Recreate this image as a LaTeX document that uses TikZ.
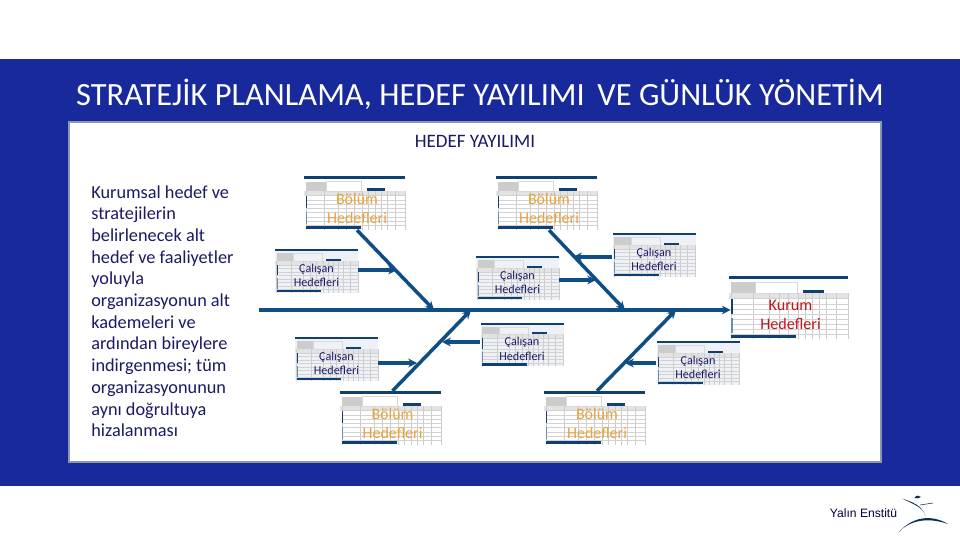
\documentclass[tikz,border=0pt]{standalone}
\usepackage{fontspec}
\setmainfont{Carlito}
\newfontfamily\logofont{Liberation Sans}
\usetikzlibrary{arrows.meta}
\definecolor{bandblue}{HTML}{17299B}
\definecolor{panelline}{HTML}{8A97B5}
\definecolor{sheetnavy}{HTML}{0F3F73}
\definecolor{sheetfill}{HTML}{EEF1F6}
\definecolor{bonecol}{HTML}{0F4E85}
\definecolor{inknavy}{HTML}{1A1A66}
\definecolor{bolumcol}{HTML}{E8A33D}
\definecolor{kurumcol}{HTML}{C0141E}
\newcommand{\bolumtext}{\rule{0pt}{12.2pt}Bölüm\\Hedefleri}
\newcommand{\calisantext}{\rule{0pt}{9.7pt}Çalışan\\Hedefleri}
\newcommand{\kurumtext}{\rule{0pt}{14.6pt}Kurum\\Hedefleri}
\tikzset{
  pics/sheetgrid/.style 2 args={code={
    \begin{scope}[shift={(-#1/2,-#1*0.265)}, x=#1*0.02cm, y=-#1*0.53*0.02cm]
    \fill[#2] (0,0) rectangle (1,1);
    \fill[gray!22] (0,0.27) rectangle (1,0.36);
    \fill[gray!40] (0.02,0.10) rectangle (0.22,0.27);
    \draw[gray!30, line width=0.2pt] (0.22,0.10) rectangle (0.57,0.27);
    \foreach \gx in {0.02,0.2,0.34,0.42,0.5,0.58,0.64,0.7,0.76,0.82,0.9,1}
      \draw[gray!40, line width=0.2pt] (\gx,0.27) -- (\gx,1);
    \foreach \gy in {0.36,0.44,0.52,0.6,0.68,0.76,0.84,0.92}
      \draw[gray!35, line width=0.2pt] (0.02,\gy) -- (1,\gy);
    \fill[sheetnavy] (0,0) rectangle (1,0.05);
    \fill[sheetnavy] (0.62,0.22) rectangle (0.8,0.27);
    \fill[sheetnavy] (0.02,0.36) rectangle (0.03,0.6);
    \fill[sheetnavy!60] (0.02,0.66) rectangle (0.03,0.9);
    \fill[sheetnavy] (0.02,0.93) rectangle (0.56,0.98);
    \end{scope}}},
  sheet/.style={inner sep=0pt, align=center, minimum width=#1*0.02cm, minimum height=#1*0.53*0.02cm},
  bolum/.style={sheet=101, text=bolumcol, font=\fontsize{9.1}{10.8}\selectfont},
  calisan/.style={sheet=83, text=inknavy, font=\fontsize{6.9}{8.5}\selectfont},
  kurum/.style={sheet=119, text=kurumcol, font=\fontsize{9.2}{10.8}\selectfont},
  bone/.style={draw=bonecol, line width=2pt, -{Stealth[length=5pt,width=5pt]}},
  twig/.style={draw=bonecol, line width=1.8pt, -{Stealth[length=5pt,width=5pt]}},
}
\begin{document}
\begin{tikzpicture}[x=0.02cm, y=-0.02cm]
\useasboundingbox (0,0) rectangle (960,540);
\fill[white] (0,0) rectangle (960,540);
\fill[bandblue] (0,59) rectangle (960,486);
\draw[panelline, fill=white, line width=0.8pt] (69,122) rectangle (881,462);
\node[text=white, font=\fontsize{18.45}{20}\selectfont] (title) at (480,94) {STRATEJİK PLANLAMA, HEDEF YAYILIMI\, VE GÜNLÜK YÖNETİM};
\node[text=inknavy, font=\fontsize{10.8}{12}\selectfont] (head) at (475,141) {HEDEF YAYILIMI};
\node[text=inknavy, font=\fontsize{10.4}{12.35}\selectfont, align=left, anchor=north west, inner sep=0pt] (intro) at (91,185) {Kurumsal hedef ve\\stratejilerin\\belirlenecek alt\\hedef ve faaliyetler\\yoluyla\\organizasyonun alt\\kademeleri ve\\ardından bireylere\\indirgenmesi; tüm\\organizasyonunun\\aynı doğrultuya\\hizalanması};
\pic at (354.5,203) {sheetgrid={101}{white}};
\pic at (546.5,203) {sheetgrid={101}{white}};
\pic at (390.5,418) {sheetgrid={101}{white}};
\pic at (594.5,418) {sheetgrid={101}{white}};
\pic at (316.5,271) {sheetgrid={83}{sheetfill}};
\pic at (654,255) {sheetgrid={83}{sheetfill}};
\pic at (517.5,278) {sheetgrid={83}{sheetfill}};
\pic at (336.5,359) {sheetgrid={83}{sheetfill}};
\pic at (522,344.5) {sheetgrid={83}{sheetfill}};
\pic at (698,363) {sheetgrid={83}{sheetfill}};
\pic at (788.5,307.5) {sheetgrid={119}{white}};
\node[bolum] (bolumA) at (357,203) {\bolumtext};
\node[bolum] (bolumB) at (549,203) {\bolumtext};
\node[bolum] (bolumC) at (392.5,418) {\bolumtext};
\node[bolum] (bolumD) at (597,418) {\bolumtext};
\node[calisan] (calisanA) at (316.5,271) {\calisantext};
\node[calisan] (calisanB) at (654,255) {\calisantext};
\node[calisan] (calisanC) at (517.5,278) {\calisantext};
\node[calisan] (calisanD) at (336.5,359) {\calisantext};
\node[calisan] (calisanE) at (522,344.5) {\calisantext};
\node[calisan] (calisanF) at (698,363) {\calisantext};
\node[kurum] (kurum) at (790.5,307.5) {\kurumtext};
\coordinate (spineStart) at (259,310);
\coordinate (boneA) at (434,310);
\coordinate (boneB) at (625,310);
\coordinate (boneC) at (471,310);
\coordinate (boneD) at (676,310);
\coordinate (twigA) at (397,270);
\coordinate (twigB) at (573,257);
\coordinate (twigC) at (596,280);
\coordinate (twigD) at (417,363);
\coordinate (twigE) at (442,342);
\coordinate (twigF) at (625,363);
\draw[bone] (spineStart) -- (kurum.west |- spineStart);
\draw[bone] (bolumA.south) -- (boneA);
\draw[bone] (bolumB.south) -- (boneB);
\draw[bone] (bolumC.north) -- (boneC);
\draw[bone] (bolumD.north) -- (boneD);
\draw[twig] (calisanA.east |- twigA) -- (twigA);
\draw[twig] (calisanB.west |- twigB) -- (twigB);
\draw[twig] (calisanC.east |- twigC) -- (twigC);
\draw[twig] (calisanD.east |- twigD) -- (twigD);
\draw[twig] (calisanE.west |- twigE) -- (twigE);
\draw[twig] (calisanF.west |- twigF) -- (twigF);
\node[text=black!75!blue, font=\logofont\fontsize{6.9}{8}\selectfont] (logo) at (863.5,513) {Yalın Enstitü};
\fill[sheetnavy!70!black] (902,498.5) .. controls (912,502) and (922,505) .. (925.5,516) .. controls (923,507) and (913,504) .. (902,498.5);
\fill[sheetnavy!70!black] (899,532) .. controls (908,522) and (925,516) .. (948,524) .. controls (935,516) and (915,514) .. (899,532);
\fill[sheetnavy!70!black] (914.5,498) .. controls (916,495) and (919,495) .. (921,497) .. controls (919,497) and (917,500) .. (914.5,498);
\draw[sheetnavy!70!black, line width=0.3pt] (920,505) -- (933,503);
\end{tikzpicture}
\end{document}
